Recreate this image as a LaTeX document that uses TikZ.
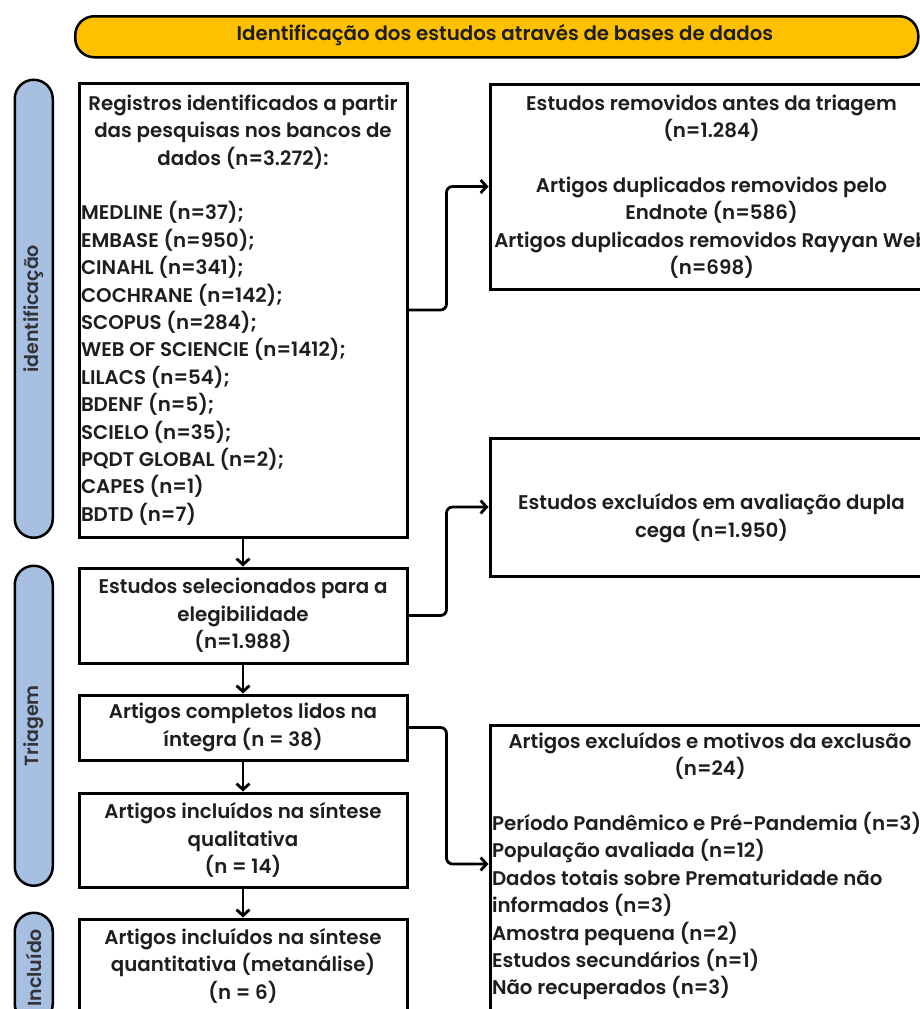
\documentclass[tikz,border=0pt]{standalone}
\usepackage{fontspec}
\setmainfont{Poppins}[UprightFont=* SemiBold]
\usetikzlibrary{arrows.meta}
\definecolor{hdr}{RGB}{255,192,0}
\definecolor{side}{RGB}{167,192,226}
\definecolor{sidetxt}{RGB}{50,50,55}
\definecolor{ink}{RGB}{30,30,30}
\begin{document}
\begin{tikzpicture}[x=1pt,y=-1pt,
  box/.style={draw=black, line width=3pt, rectangle, inner sep=0pt, anchor=north west, text=ink, font=\fontsize{19.8}{27.4}\selectfont, align=center},
  txt/.style={inner sep=0pt, text=ink, font=\fontsize{19.8}{27.4}\selectfont},
  sidepill/.style={draw=black, line width=2.5pt, fill=side, rounded corners=19pt, anchor=north west, minimum width=38pt, inner sep=0pt},
  sidelabel/.style={rotate=90, text=sidetxt, inner sep=0pt, font=\fontsize{19}{20}\selectfont},
  flow/.style={draw=black, line width=2.8pt, -{Straight Barb[length=6pt,width=13pt]}, rounded corners=6pt},
]
\useasboundingbox (0,0) rectangle (920,1009);
\clip (0,0) rectangle (920,1009);

% header
\node[draw=black, line width=2.5pt, fill=hdr, rounded corners=19pt, anchor=north west,
      minimum width=843pt, minimum height=41pt] (hdr) at (74,15) {};
\node[txt] (hdrtxt) at (505,35) {Identificação dos estudos através de bases de dados};

% side pills
\node[sidepill, minimum height=458pt] (s1) at (13.5,78.5) {};
\node[sidelabel] (s1t) at (s1.center) {identificação};
\node[sidepill, minimum height=320pt] (s2) at (13.5,564.5) {};
\node[sidelabel] (s2t) at (s2.center) {Triagem};
\node[sidepill, minimum height=110pt] (s3) at (13.5,911.5) {};
\node[sidelabel] (s3t) at (s3.center) {Incluído};

% left column
\node[box, minimum width=328pt, minimum height=454pt] (b1) at (77.5,81.5)
 {\parbox{324pt}{\centering Registros identificados a partir\\ das pesquisas nos bancos de\\ dados (n=3.272):\par\vspace{27.4pt}\raggedright
 MEDLINE (n=37);\\ EMBASE (n=950);\\ CINAHL (n=341);\\ COCHRANE (n=142);\\ SCOPUS (n=284);\\ WEB OF SCIENCIE (n=1412);\\ LILACS (n=54);\\ BDENF (n=5);\\ SCIELO (n=35);\\ PQDT GLOBAL (n=2);\\ CAPES (n=1)\\ BDTD (n=7)}};
\node[box, minimum width=328pt, minimum height=95pt] (b2) at (77.5,566.5)
 {Estudos selecionados para a\\ elegibilidade\\ (n=1.988)};
\node[box, minimum width=328pt, minimum height=65pt] (b3) at (77.5,693.5)
 {Artigos completos lidos na\\ íntegra (n = 38)};
\node[box, minimum width=328pt, minimum height=94pt] (b4) at (77.5,791.5)
 {Artigos incluídos na síntese\\ qualitativa\\ (n = 14)};
\node[box, minimum width=328pt, minimum height=93pt] (b5) at (77.5,917.5)
 {Artigos incluídos na síntese\\ quantitativa (metanálise)\\ (n = 6)};

% right column
\node[box, minimum width=443pt, minimum height=205pt] (bA) at (488.5,82.5)
 {Estudos removidos antes da triagem\\ (n=1.284)\\[27.4pt] Artigos duplicados removidos pelo\\ Endnote (n=586)\\ Artigos duplicados removidos Rayyan Web\\ (n=698)};
\node[box, minimum width=443pt, minimum height=138pt] (bB) at (488.5,436.5) {};
\node[txt, align=center] (bBt) at ([yshift=-11pt]bB.center) {Estudos excluídos em avaliação dupla\\ cega (n=1.950)};
\node[box, minimum width=443pt, minimum height=300pt] (bC) at (488.5,723.5) {};
\node[txt, anchor=north] (bCt) at (710,732)
 {\parbox{436pt}{\centering Artigos excluídos e motivos da exclusão\\ (n=24)\par\vspace{27.4pt}\raggedright
 Período Pandêmico e Pré-Pandemia (n=3)\\ População avaliada (n=12)\\ Dados totais sobre Prematuridade não\\ informados (n=3)\\ Amostra pequena (n=2)\\ Estudos secundários (n=1)\\ Não recuperados (n=3)}};

% connectors
\draw[flow] (b1.south) -- (b2.north);
\draw[flow] (b2.south) -- (b3.north);
\draw[flow] (b3.south) -- (b4.north);
\draw[flow] (b4.south) -- (b5.north);
\draw[flow] (b1.east) -- ++(38,0) |- (bA.west);
\draw[flow] (b2.east) -- ++(38,0) |- (bB.west);
\coordinate (cin) at ([yshift=-140.5pt]bC.north west);
\draw[flow] (b3.east) -- ++(38,0) |- (cin);
\end{tikzpicture}
\end{document}
